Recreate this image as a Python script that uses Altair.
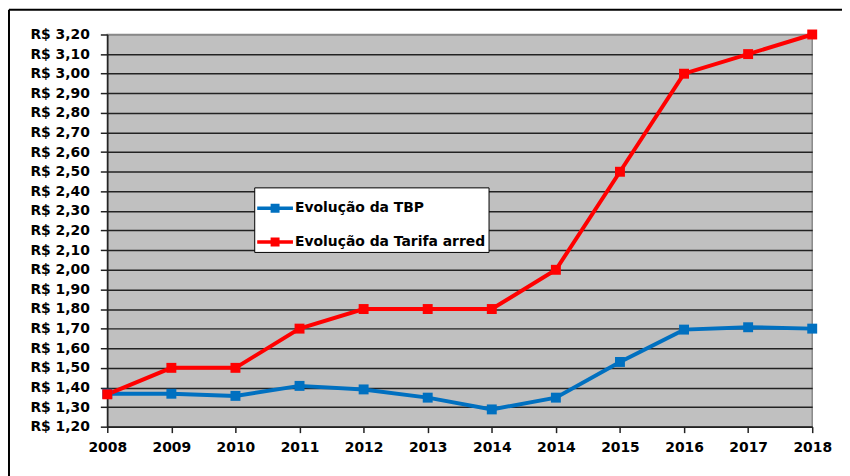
import json
import altair as alt
import pandas as pd

years = ["2008", "2009", "2010", "2011", "2012", "2013", "2014", "2014", "2015", "2016", "2017", "2018"]
tbp = [1.368, 1.368, 1.357, 1.408, 1.390, 1.348, 1.288, 1.348, 1.530, 1.695, 1.707, 1.700]
tarifa = [1.365, 1.50, 1.50, 1.70, 1.80, 1.80, 1.80, 2.00, 2.50, 3.00, 3.10, 3.20]
series_names = ["Evolução da TBP", "Evolução da Tarifa arred"]
series_colors = ["#0070C0", "#FF0000"]
y_ticks = [1.20, 1.30, 1.40, 1.50, 1.60, 1.70, 1.80, 1.90, 2.00, 2.10, 2.20,
           2.30, 2.40, 2.50, 2.60, 2.70, 2.80, 2.90, 3.00, 3.10, 3.20]

rows = []
for name, vals in zip(series_names, [tbp, tarifa]):
    for i, v in enumerate(vals):
        rows.append({"idx": i, "serie": name, "valor": v})
df = pd.DataFrame(rows)

FONT = "DejaVu Sans"
x_label_expr = json.dumps(years) + "[datum.value]"

sym_path = "M-1,-0.1H-0.25V-0.25H0.25V-0.1H1V0.1H0.25V0.25H-0.25V0.1H-1Z"

x_enc = alt.X(
    "idx:Q",
    scale=alt.Scale(domain=[0, len(years) - 1], nice=False, zero=False),
    axis=alt.Axis(
        values=list(range(len(years))),
        labelExpr=x_label_expr,
        title=None,
        grid=False,
        tickSize=6,
        tickColor="#222222",
        tickWidth=1.5,
        domainColor="#222222",
        domainWidth=1.5,
        labelFont=FONT,
        labelFontWeight="bold",
        labelFontSize=14,
        labelColor="black",
        labelPadding=8,
        labelFlush=False,
        labelOverlap=False,
        labelBound=False,
    ),
)
y_enc = alt.Y(
    "valor:Q",
    scale=alt.Scale(domain=[1.2, 3.2], nice=False, zero=False),
    axis=alt.Axis(
        values=y_ticks,
        labelExpr="'R$ ' + replace(format(datum.value, '.2f'), '.', ',')",
        title=None,
        grid=True,
        gridColor={"condition": {"test": "datum.value >= 3.19", "value": "#888888"}, "value": "#222222"},
        gridWidth=1.5,
        tickSize=7,
        tickColor="#222222",
        tickWidth=1.5,
        domainColor="#222222",
        domainWidth=1.5,
        labelFont=FONT,
        labelFontWeight="bold",
        labelFontSize=14,
        labelColor="black",
        labelPadding=11,
        labelOverlap=False,
        labelFlush=False,
    ),
)
color_scale = alt.Scale(domain=series_names, range=series_colors)
legend = alt.Legend(
    title=None,
    orient="none",
    legendX=148,
    legendY=154,
    direction="vertical",
    fillColor="white",
    strokeColor="black",
    padding=3,
    rowPadding=9,
    symbolType=sym_path,
    symbolSize=1296,
    symbolStrokeWidth=0,
    symbolOpacity=1,
    labelOffset=2,
    labelFont=FONT,
    labelFontWeight="bold",
    labelFontSize=14,
    labelColor="black",
    labelLimit=400,
)

lines = alt.Chart(df).mark_line(strokeWidth=4).encode(
    x=x_enc, y=y_enc, color=alt.Color("serie:N", scale=color_scale, legend=None), order="idx:Q"
)
points = alt.Chart(df).mark_point(shape="square", size=100, filled=True, opacity=1).encode(
    x=x_enc, y=y_enc, color=alt.Color("serie:N", scale=color_scale, legend=legend)
)

frame_left = alt.Chart(alt.Data(values=[{}])).mark_rule(color="black", strokeWidth=2).encode(
    x=alt.value(-99), y=alt.value(-25), y2=alt.value(600)
)
frame_top = alt.Chart(alt.Data(values=[{}])).mark_rule(color="black", strokeWidth=2).encode(
    x=alt.value(-99), x2=alt.value(900), y=alt.value(-25)
)

chart = alt.layer(frame_left, frame_top, lines, points).resolve_legend(
    color="independent"
).properties(
    width=710,
    height=395,
    autosize=alt.AutoSizeParams(type="none"),
    padding={"left": 100, "top": 25, "right": 30, "bottom": 48},
    background="white",
).configure_view(
    fill="#C0C0C0",
    stroke="#888888",
    strokeWidth=1.5,
)

chart.save("out.html", embed_options={"renderer": "svg", "actions": False})
